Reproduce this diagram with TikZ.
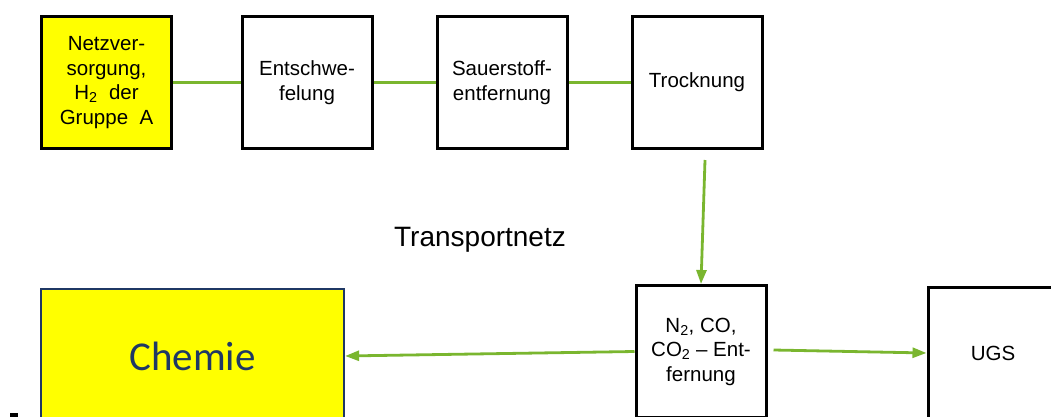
\documentclass[tikz,border=0pt]{standalone}
\usepackage{fontspec}
\setmainfont{Liberation Sans}
\newfontfamily\chemfont{Carlito}
\usetikzlibrary{arrows.meta}
\definecolor{gruen}{RGB}{122,182,47}
\definecolor{gelb}{RGB}{255,255,0}
\definecolor{marine}{RGB}{31,56,100}

\begin{document}
\begin{tikzpicture}[x=1pt,y=-1pt,
    anlage/.style={draw=black,line width=3pt,minimum width=130pt,minimum height=132pt,
      align=center,inner sep=2pt,font=\fontsize{20.5}{24.5}\selectfont},
    leitung/.style={draw=gruen,line width=2.8pt},
    pfeil/.style={leitung,-{Triangle[length=14pt,width=10pt]}}]
          \useasboundingbox (0,0) rectangle (1051,417);
          \clip (0,0) rectangle (1051,417);
          % obere Reihe
          \node[anlage,fill=gelb] (netz) at (106.5,82.5) {Netzver-\\sorgung,\\H\textsubscript{2}~ der\\Gruppe~ A};
          \node[anlage] (schwefel) at (307,82.5) {Entschwe-\\felung};
          \node[anlage] (sauer) at (502,82.5) {Sauerstoff-\\entfernung};
          \node[anlage] (trocken) at (697,82.5) {\raisebox{-3pt}{Trocknung}};
          % untere Reihe
          \node[anlage,fill=gelb,draw=marine,line width=2.2pt,minimum width=303pt,minimum height=134pt] (chemie) at (192.5,356) {\chemfont\fontsize{41}{44}\selectfont\color{marine}Chemie};
          \node[anlage] (inert) at (701,351.5) {N\textsubscript{2}, CO,\\CO\textsubscript{2} -- Ent-\\fernung};
          \node[anlage] (ugs) at (993,353) {UGS};
          \node[font=\fontsize{28}{31}\selectfont] (netzname) at (480,240) {Transportnetz};
          \fill (10,413) rectangle (18,417);
          % Leitungen
          \draw[leitung] (netz) -- (schwefel);
          \draw[leitung] (schwefel) -- (sauer);
          \draw[leitung] (sauer) -- (trocken);
          \draw[pfeil] ([xshift=8pt,yshift=-10pt]trocken.south) -- (inert.north);
          \draw[pfeil] (inert.west) -- (chemie.east);
          \draw[pfeil] ([xshift=6pt,yshift=1.5pt]inert.east) -- (ugs.west);
        \end{tikzpicture}
\end{document}
